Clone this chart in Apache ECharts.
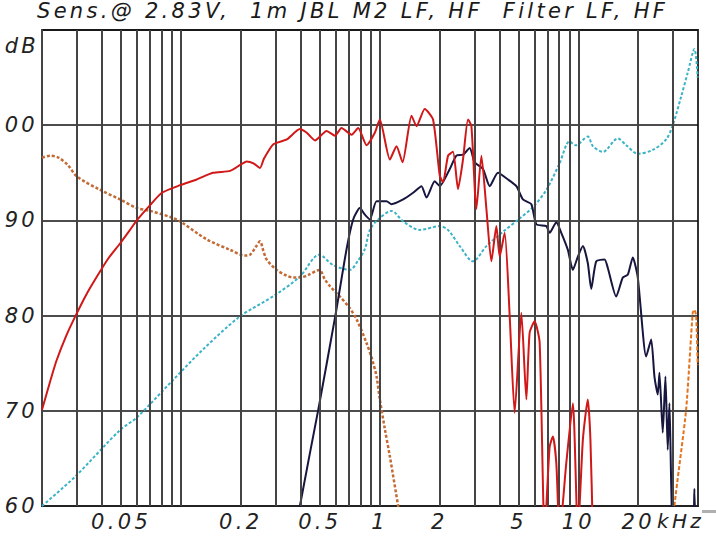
<!DOCTYPE html>
<html><head><meta charset="utf-8">
<script src="https://cdn.jsdelivr.net/npm/echarts@6/dist/echarts.min.js"></script>
<style>
html,body{margin:0;padding:0;background:#fff}
#c{width:716px;height:539px}
#c svg text{letter-spacing:3.3px;white-space:pre}
</style>
</head><body><div id="c"></div>
<script>
// ---- text ----
const titleText = 'Sens.@ 2.83V,  1m JBL M2 LF, HF  Filter LF, HF';
const xTickValues = [0.05, 0.2, 0.5, 1, 2, 5, 10, 20];
const xTickLabels = ['0.05', '0.2', '0.5', '1', '2', '5', '10', '20'];
const xUnit = 'kHz';
const yTickValues = [60, 70, 80, 90, 100, 110];
const yTickLabels = ['60', '70', '80', '90', '00', ''];
const yUnit = 'dB';
// vertical grid frequencies (kHz)
const xGridValues = [0.03,0.04,0.05,0.06,0.07,0.08,0.09,0.1,0.2,0.3,0.4,0.5,0.6,0.7,0.8,0.9,1,2,3,4,5,6,7,8,9,10,20,30];

// ---- series data: [frequency kHz, dB] ----
const lfResponse = [[0.02,70.1],[0.0215,72.4],[0.0236,75.2],[0.0265,77.9],[0.0297,80.1],[0.0334,82.2],[0.0378,84.1],[0.0431,86.0],[0.0495,87.6],[0.055,88.9],[0.06,90.0],[0.07,91.6],[0.0802,92.9],[0.0991,93.7],[0.12,94.3],[0.145,95.0],[0.177,95.2],[0.198,95.8],[0.214,96.2],[0.232,96.0],[0.25,95.5],[0.262,96.5],[0.292,98.0],[0.341,98.5],[0.397,99.6],[0.43,99.2],[0.473,98.4],[0.541,99.4],[0.596,98.9],[0.643,99.7],[0.723,99.0],[0.78,99.7],[0.86,97.9],[0.946,99.2],[1.002,100.6],[1.126,96.4],[1.216,97.8],[1.304,96.1],[1.447,101.0],[1.533,99.9],[1.687,101.7],[1.857,100.6],[2.007,94.7],[2.085,94.0],[2.21,96.8],[2.34,97.2],[2.48,93.3],[2.628,96.4],[2.784,100.6],[2.896,99.9],[3.068,91.2],[3.252,96.8],[3.446,91.2],[3.65,85.7],[3.868,89.4],[4.018,86.2],[4.258,88.7],[4.512,80.0],[4.78,69.8],[5.166,80.3],[5.474,71.2],[5.686,78.2],[6.026,79.4],[6.384,77.2],[6.764,57],[7.168,66.2],[7.448,67.3],[7.746,64.5],[8.048,57],[8.694,64.5],[9.384,70.8],[9.944,57],[10.54,67.0],[11.16,71.2],[11.5,67.0],[11.83,57]];
const hfResponse = [[0.38,57],[0.397,60],[0.491,70.1],[0.6,80.1],[0.682,87.0],[0.736,90.1],[0.795,91.3],[0.843,90.6],[0.893,90.1],[0.965,92.0],[1.083,92.0],[1.148,91.7],[1.313,92.2],[1.474,92.9],[1.624,93.6],[1.721,92.4],[1.894,94.1],[2.007,93.6],[2.254,95.4],[2.434,96.8],[2.628,96.9],[2.84,97.6],[3.008,96.1],[3.312,95.4],[3.58,93.6],[3.94,95.0],[4.424,94.3],[4.876,93.6],[5.262,92.2],[5.8,91.7],[6.144,89.6],[6.9,89.4],[7.168,88.7],[7.746,89.8],[8.204,88.7],[8.856,86.9],[9.384,84.8],[9.944,86.2],[10.54,87.3],[11.16,85.5],[11.61,82.8],[12.3,85.7],[13.55,85.9],[14.07,85.0],[15.5,82.0],[16.74,84.0],[17.73,84.3],[18.79,86.1],[19.91,84.0],[21.94,75.7],[23.25,77.5],[24.15,73.6],[25.09,71.7],[25.59,74.0],[26.59,67.7],[27.43,73.6],[28.17,65.9],[28.73,70.8],[29.85,57],[33,52],[37.6,56],[38.37,61.8],[39.0,56]];
const lfFilter = [[0.02,96.6],[0.022,96.8],[0.0242,96.6],[0.027,95.8],[0.03,94.6],[0.0393,93.2],[0.0495,92.2],[0.06,91.3],[0.07,91.0],[0.09,90.3],[0.0991,89.9],[0.135,88.0],[0.177,86.9],[0.21,86.3],[0.223,86.4],[0.238,87.2],[0.25,87.8],[0.26,86.8],[0.27,85.9],[0.303,84.8],[0.34,84.2],[0.368,84.0],[0.397,84.0],[0.44,84.3],[0.497,84.8],[0.53,83.8],[0.562,83.1],[0.631,82.0],[0.7,80.9],[0.766,79.6],[0.86,77.1],[0.92,75.3],[0.965,73.6],[1.002,71.2],[1.06,68.2],[1.126,65.2],[1.239,60],[1.33,56]];
const lfFilterTail = [[29.3,55],[30.44,60],[34.85,70.1],[37.63,80.3],[38.4,80.6],[39.14,80.0],[39.86,74.8]];
const hfFilter = [[0.02,60],[0.0294,63.1],[0.0495,68.0],[0.06,69.3],[0.09,73.1],[0.13,76.5],[0.198,79.9],[0.3,82.2],[0.397,84.1],[0.497,86.4],[0.584,85.3],[0.708,84.8],[0.78,85.8],[0.843,87.0],[0.893,89.0],[0.983,90.1],[1.148,91.0],[1.313,89.9],[1.592,89.0],[2.007,89.4],[2.21,89.0],[2.53,87.3],[2.95,85.7],[3.446,87.3],[4.176,88.8],[5.064,90.2],[5.908,91.4],[6.9,93.2],[8.048,96.0],[9.034,98.3],[9.68,97.9],[11.16,98.8],[11.83,97.8],[13.28,97.2],[15.79,98.6],[17.41,97.9],[19.91,97.0],[23.68,97.4],[27.65,98.5],[29.85,100.0],[32.9,103.0],[35.5,105.5],[38.37,108.0],[39.86,105.0]];

const FONT = 'DejaVu Sans';
const chart = echarts.init(document.getElementById('c'), null, {renderer: 'svg'});

const option = {
  animation: false,
  backgroundColor: '#fff',
  title: {
    text: titleText, left: 37, top: 0, padding: 0,
    textStyle: {fontFamily: FONT, fontStyle: 'italic', fontWeight: 'normal', fontSize: 21, color: '#1a1a1a'}
  },
  grid: {left: 42, right: 18, top: 30, bottom: 33, show: true, borderColor: '#333', borderWidth: 2},
  xAxis: {
    type: 'log', logBase: 10, min: 0.02, max: 40,
    axisLine: {show: true, lineStyle: {color: '#222', width: 2}},
    axisTick: {show: false},
    splitLine: {show: false},
    axisLabel: {
      customValues: xTickValues,
      formatter: function (v) {
        for (let i = 0; i < xTickValues.length; i++) {
          if (Math.abs(xTickValues[i] - v) / xTickValues[i] < 1e-6) return xTickLabels[i];
        }
        return '';
      },
      fontFamily: FONT, fontStyle: 'italic', fontSize: 21, color: '#222', margin: 5
    }
  },
  yAxis: {
    type: 'value', min: 60, max: 110, interval: 10,
    name: yUnit, nameLocation: 'end', nameGap: -26,
    nameTextStyle: {fontFamily: FONT, fontStyle: 'italic', fontSize: 21, color: '#222', align: 'right', verticalAlign: 'bottom', padding: [0, 3, 0, 0]},
    axisLine: {show: true, lineStyle: {color: '#444', width: 2}},
    axisTick: {show: false},
    splitLine: {show: true, lineStyle: {color: '#111', width: 1.5}},
    axisLabel: {
      formatter: function (v) { const i = yTickValues.indexOf(v); return i >= 0 ? yTickLabels[i] : ''; },
      fontFamily: FONT, fontStyle: 'italic', fontSize: 21, color: '#222', margin: 4
    }
  },
  graphic: [{
    type: 'text', x: 657, y: 511, silent: true,
    style: {text: xUnit, fontFamily: FONT, fontStyle: 'italic', fontSize: 20, fill: '#222'}
  }, {
    type: 'rect', x: 702, y: 510, silent: true,
    shape: {width: 14, height: 3}, style: {fill: '#b0b0b0'}
  }],
  series: [
    {
      name: 'grid', type: 'line', data: [], silent: true, z: 1,
      markLine: {
        silent: true, animation: false, symbol: ['none', 'none'],
        label: {show: false},
        lineStyle: {color: '#444', width: 2, type: 'solid'},
        emphasis: {disabled: true},
        data: xGridValues.map(v => ({xAxis: v}))
      }
    },
    {name: 'HF filter', type: 'line', data: hfFilter, showSymbol: false, smooth: 0.3, z: 3,
     lineStyle: {color: '#3bb3c6', width: 2, type: [3, 2]}},
    {name: 'LF filter', type: 'line', data: lfFilter, showSymbol: false, smooth: 0.3, z: 3,
     lineStyle: {color: '#c36a35', width: 2.5, type: [3, 2]}},
    {name: 'LF filter tail', type: 'line', data: lfFilterTail, showSymbol: false, smooth: 0.2, z: 3,
     lineStyle: {color: '#e4731e', width: 2, type: [4, 2]}},
    {name: 'HF', type: 'line', data: hfResponse, showSymbol: false, smooth: 0.2, z: 4,
     lineStyle: {color: '#16163e', width: 2}},
    {name: 'LF', type: 'line', data: lfResponse, showSymbol: false, smooth: 0.2, z: 5,
     lineStyle: {color: '#d01818', width: 2}}
  ]
};
chart.setOption(option);
</script>
</body></html>
